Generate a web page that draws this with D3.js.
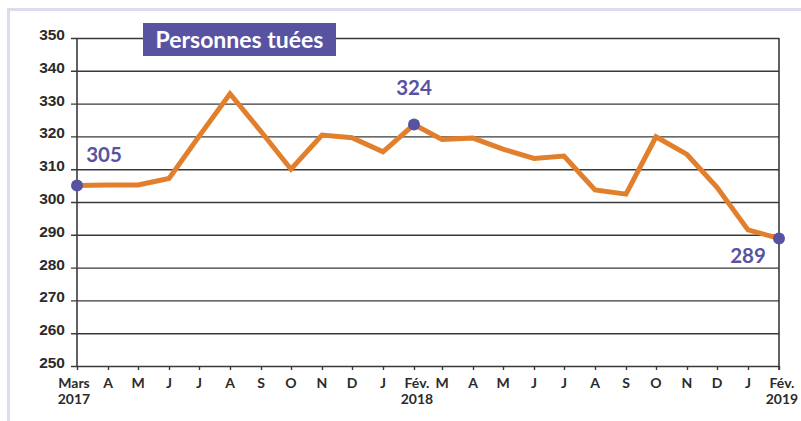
<!DOCTYPE html>
<html lang="fr">
<head>
<meta charset="UTF-8">
<title>Personnes tuées</title>
<script src="https://cdn.jsdelivr.net/npm/d3@7/dist/d3.min.js"></script>
<style>
  body { margin: 0; background: #fff; }
  svg { display: block; font-family: Lato, "Open Sans", sans-serif; }
</style>
</head>
<body>
<script>
// données : Mars 2017 -> Février 2019
const months = ["2017-03", "2017-04", "2017-05", "2017-06", "2017-07", "2017-08", "2017-09", "2017-10",
  "2017-11", "2017-12", "2018-01", "2018-02", "2018-03", "2018-04", "2018-05", "2018-06", "2018-07",
  "2018-08", "2018-09", "2018-10", "2018-11", "2018-12", "2019-01", "2019-02"];
const monthLabels = ["Mars", "A", "M", "J", "J", "A", "S", "O", "N", "D", "J", "Fév.",
  "M", "A", "M", "J", "J", "A", "S", "O", "N", "D", "J", "Fév."];
const yearLabels = {"2017-03": "2017", "2018-02": "2018", "2019-02": "2019"};
const killed = [305, 305.2, 305.2, 307.2, 320, 333, 321.5, 310, 320.4, 319.6, 315.3, 323.6,
  319.1, 319.5, 316.1, 313.3, 314, 303.7, 302.4, 319.9, 314.5, 304.5, 291.5, 288.9];
const highlights = [{m: "2017-03", label: "305"}, {m: "2018-02", label: "324"}, {m: "2019-02", label: "289"}];
const yTicks = [250, 260, 270, 280, 290, 300, 310, 320, 330, 340, 350];
const title = "Personnes tuées";

const W = 801, H = 421;
const margin = {top: 38, right: 22, bottom: 55, left: 77};
const purple = "#5753a1", orange = "#e27f2d";

const parse = d3.timeParse("%Y-%m");
const data = months.map((m, i) => ({m, date: parse(m), v: killed[i], lab: monthLabels[i]}));

const svg = d3.select("body").append("svg").attr("width", W).attr("height", H);

// cadre
svg.append("rect")
  .attr("x", 8.5).attr("y", 9.5).attr("width", W + 20).attr("height", H + 20)
  .attr("fill", "none").attr("stroke", "#dddcee").attr("stroke-width", 3);

const x = d3.scaleTime()
  .domain(d3.extent(data, d => d.date))
  .range([margin.left, W - margin.right]);
const y = d3.scaleLinear().domain([250, 350]).range([H - margin.bottom, margin.top]);

// axe Y + grille
const gy = svg.append("g")
  .attr("transform", `translate(${margin.left},0)`)
  .call(d3.axisLeft(y).tickValues(yTicks).tickSize(-(W - margin.left - margin.right)).tickPadding(12));
gy.select(".domain").remove();
gy.selectAll(".tick line").attr("stroke", "#3a3a3a").attr("stroke-width", 1.4).attr("x1", -6);
gy.selectAll(".tick text")
  .attr("fill", "#2b2b2b").attr("font-size", 15.5).attr("font-weight", 700).attr("dy", "0.1em");

// bords verticaux
svg.append("line")
  .attr("x1", margin.left).attr("x2", margin.left).attr("y1", y(350)).attr("y2", y(250))
  .attr("stroke", "#3a3a3a").attr("stroke-width", 1.6);
svg.append("line")
  .attr("x1", W - margin.right).attr("x2", W - margin.right).attr("y1", y(350)).attr("y2", y(250) + 4)
  .attr("stroke", "#3a3a3a").attr("stroke-width", 1.6);

// axe X
const gx = svg.append("g")
  .attr("transform", `translate(0,${y(250)})`)
  .call(d3.axisBottom(x).tickValues(data.map(d => d.date)).tickSize(4).tickFormat(""));
gx.select(".domain").remove();
gx.selectAll(".tick line").attr("stroke", "#3a3a3a").attr("stroke-width", 1.4);

const xl = svg.append("g")
  .attr("fill", "#2b2b2b").attr("font-size", 14).attr("font-weight", 700).attr("text-anchor", "middle");
xl.selectAll("text.m").data(data).join("text")
  .attr("class", "m")
  .attr("x", d => x(d.date) + (d.m === "2017-03" ? -3 : d.lab === "Fév." ? 3 : 0))
  .attr("y", 388)
  .text(d => d.lab);
xl.selectAll("text.y").data(data.filter(d => yearLabels[d.m])).join("text")
  .attr("class", "y")
  .attr("x", d => x(d.date) + (d.m === "2017-03" ? -3 : 3))
  .attr("y", 404)
  .text(d => yearLabels[d.m]);

// courbe
svg.append("path")
  .datum(data)
  .attr("fill", "none").attr("stroke", orange).attr("stroke-width", 5).attr("stroke-linejoin", "miter")
  .attr("d", d3.line().x(d => x(d.date)).y(d => y(d.v)));

// points et étiquettes
const hl = highlights.map(h => Object.assign({}, h, data.find(d => d.m === h.m)));
svg.selectAll("circle.hl").data(hl).join("circle")
  .attr("class", "hl")
  .attr("cx", d => x(d.date)).attr("cy", d => y(d.v)).attr("r", 6).attr("fill", purple);
const offs = {"2017-03": [27, -24], "2018-02": [0, -30], "2019-02": [-31, 25]};
svg.selectAll("text.hl").data(hl).join("text")
  .attr("class", "hl")
  .attr("x", d => x(d.date) + offs[d.m][0]).attr("y", d => y(d.v) + offs[d.m][1])
  .attr("text-anchor", "middle").attr("fill", purple)
  .attr("font-size", 20.5).attr("font-weight", 700)
  .text(d => d.label);

// titre
const tg = svg.append("g");
tg.append("rect").attr("x", 143).attr("y", 23).attr("width", 193).attr("height", 33).attr("fill", purple);
tg.append("text")
  .attr("x", 239.5).attr("y", 47.5).attr("text-anchor", "middle")
  .attr("fill", "#fff").attr("font-size", 23).attr("font-weight", 700)
  .text(title);
</script>
</body>
</html>
